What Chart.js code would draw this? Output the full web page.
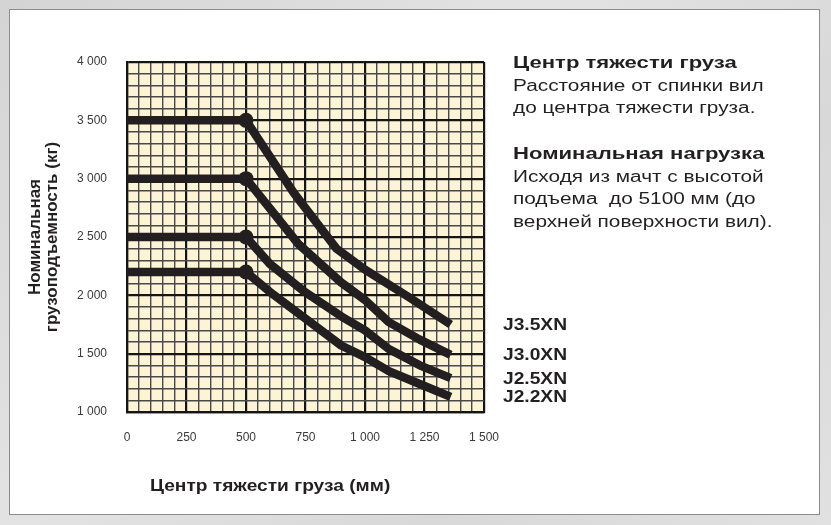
<!DOCTYPE html>
<html lang="ru">
<head>
<meta charset="utf-8">
<title>Номинальная грузоподъемность</title>
<script src="https://cdn.jsdelivr.net/npm/chart.js@4.4.1/dist/chart.umd.min.js"></script>
<style>
  html,
  body {
    margin: 0;
    padding: 0;
  }
  body {
    position: relative;
    width: 831px;
    height: 525px;
    overflow: hidden;
    background: linear-gradient(135deg, #d4d4d4, #e3e3e3 40%, #d8d8d8 70%, #e1e1e1);
    font-family: "Liberation Sans", Arial, sans-serif;
    color: #231f20;
  }
  .panel {
    position: absolute;
    left: 9px;
    top: 9px;
    width: 811px;
    height: 506px;
    box-sizing: border-box;
    background: #fff;
    border: 1px solid #8c8c8c;
  }
  #load-chart {
    position: absolute;
    left: 0;
    top: 0;
  }
  .x-title {
    position: absolute;
    left: 150px;
    top: 476px;
    font-size: 16.5px;
    font-weight: bold;
    white-space: nowrap;
    transform: scaleX(1.16);
    transform-origin: left top;
  }
  .notes {
    position: absolute;
    left: 513px;
    top: 52px;
    font-size: 16px;
    line-height: 22.7px;
    white-space: pre;
    transform: scaleX(1.3);
    transform-origin: left top;
  }
  .notes b {
    font-size: 17px;
    font-weight: bold;
  }
</style>
</head>
<body>
<div class="panel"></div>
<canvas id="load-chart" width="831" height="525"></canvas>
<div class="x-title">Центр тяжести груза (мм)</div>
<div class="notes"><b>Центр тяжести груза</b>
Расстояние от спинки вил
до центра тяжести груза.

<b>Номинальная нагрузка</b>
Исходя из мачт с высотой
подъема  до 5100 мм (до
верхней поверхности вил).</div>

<script>
// Data
const seriesNames = ["J3.5XN", "J3.0XN", "J2.5XN", "J2.2XN"];

const centresJ35 = [0, 500, 700, 880, 1000, 1180, 1360];
const loadsJ35 = [3500, 3500, 2880, 2400, 2220, 1990, 1750];

const centresJ30 = [0, 500, 720, 900, 1000, 1100, 1230, 1360];
const loadsJ30 = [3000, 3000, 2440, 2110, 1960, 1770, 1620, 1490];

const centresJ25 = [0, 500, 600, 740, 900, 1000, 1100, 1230, 1360];
const loadsJ25 = [2500, 2500, 2270, 2040, 1820, 1700, 1540, 1400, 1290];

const centresJ22 = [0, 500, 600, 750, 900, 1000, 1100, 1230, 1360];
const loadsJ22 = [2200, 2200, 2030, 1800, 1570, 1470, 1350, 1240, 1130];

const xTickLabels = [0, 250, 500, 750, 1000, 1250, 1500];
const yTickLabels = [1000, 1500, 2000, 2500, 3000, 3500, 4000];

// Helpers
function toPoints(centres, loads) {
  return centres.map((x, index) => ({ x: x, y: loads[index] }));
}

function formatThousands(value) {
  return String(value).replace(/\B(?=(\d{3})+(?!\d))/g, " ");
}

function majorLabel(list) {
  return function (value) {
    return list.includes(value) ? formatThousands(value) : "";
  };
}

function gridColor(list) {
  return (ctx) => (list.includes(ctx.tick.value) ? "#151515" : "#484848");
}

function gridWidth(list) {
  return (ctx) => (list.includes(ctx.tick.value) ? 2.2 : 1.4);
}

function makeDataset(label, centres, loads) {
  return {
    label: label,
    data: toPoints(centres, loads),
    borderColor: "#231f20",
    backgroundColor: "#231f20",
    borderWidth: 8.5,
    borderCapStyle: "butt",
    borderJoinStyle: "round",
    tension: 0,
    pointRadius: (ctx) => (ctx.dataIndex === 1 ? 7.5 : 0),
    pointBorderWidth: 0,
    pointBackgroundColor: "#231f20",
  };
}

// Plugins
const plotBackground = {
  id: "plotBackground",
  beforeDraw(chart) {
    const { ctx, chartArea } = chart;
    ctx.save();
    ctx.fillStyle = "#fdf4d8";
    ctx.fillRect(chartArea.left, chartArea.top, chartArea.width, chartArea.height);
    ctx.restore();
  },
};

// model names sit at the end of each curve, right of the plot
const seriesLabels = {
  id: "seriesLabels",
  afterDatasetsDraw(chart) {
    const { ctx, chartArea } = chart;
    ctx.save();
    ctx.font = "bold 16px 'Liberation Sans', Arial, sans-serif";
    ctx.fillStyle = "#231f20";
    ctx.textBaseline = "middle";
    chart.data.datasets.forEach((dataset, index) => {
      const points = chart.getDatasetMeta(index).data;
      const last = points[points.length - 1];
      ctx.save();
      ctx.translate(chartArea.right + 19, last.y + 1);
      ctx.scale(1.2, 1);
      ctx.fillText(dataset.label, 0, 0);
      ctx.restore();
    });
    ctx.restore();
  },
};

// Configuration
const tickFont = { family: "'Liberation Sans', Arial, sans-serif", size: 12 };

const loadChartConfig = {
  type: "line",
  data: {
    datasets: [
      makeDataset(seriesNames[0], centresJ35, loadsJ35),
      makeDataset(seriesNames[1], centresJ30, loadsJ30),
      makeDataset(seriesNames[2], centresJ25, loadsJ25),
      makeDataset(seriesNames[3], centresJ22, loadsJ22),
    ],
  },
  options: {
    responsive: false,
    animation: false,
    layout: {
      padding: { left: 20, top: 62, right: 347, bottom: 20 },
    },
    plugins: {
      legend: { display: false },
      tooltip: { enabled: false },
    },
    scales: {
      x: {
        type: "linear",
        min: 0,
        max: 1500,
        afterFit(scale) {
          scale.height = 93;
        },
        ticks: {
          stepSize: 50,
          autoSkip: false,
          maxRotation: 0,
          padding: 18,
          color: "#3a3a3a",
          font: tickFont,
          callback: majorLabel(xTickLabels),
        },
        grid: {
          drawTicks: false,
          color: gridColor(xTickLabels),
          lineWidth: gridWidth(xTickLabels),
        },
        border: { display: true, color: "#151515", width: 2.2 },
      },
      y: {
        min: 1000,
        max: 4000,
        afterFit(scale) {
          scale.width = 107;
        },
        ticks: {
          stepSize: 100,
          autoSkip: false,
          padding: 20,
          color: "#3a3a3a",
          font: tickFont,
          callback: majorLabel(yTickLabels),
        },
        grid: {
          drawTicks: false,
          color: gridColor(yTickLabels),
          lineWidth: gridWidth(yTickLabels),
        },
        border: { display: true, color: "#151515", width: 2.2 },
        title: {
          display: true,
          text: ["Номинальная", "грузоподъемность (кг)"],
          color: "#231f20",
          font: {
            family: "'Liberation Sans', Arial, sans-serif",
            size: 17,
            weight: "bold",
            lineHeight: 1,
          },
          padding: { top: 6.5, bottom: 0 },
        },
      },
    },
  },
  plugins: [plotBackground, seriesLabels],
};

// Render
const canvas = document.getElementById("load-chart");
new Chart(canvas, loadChartConfig);
</script>
</body>
</html>
